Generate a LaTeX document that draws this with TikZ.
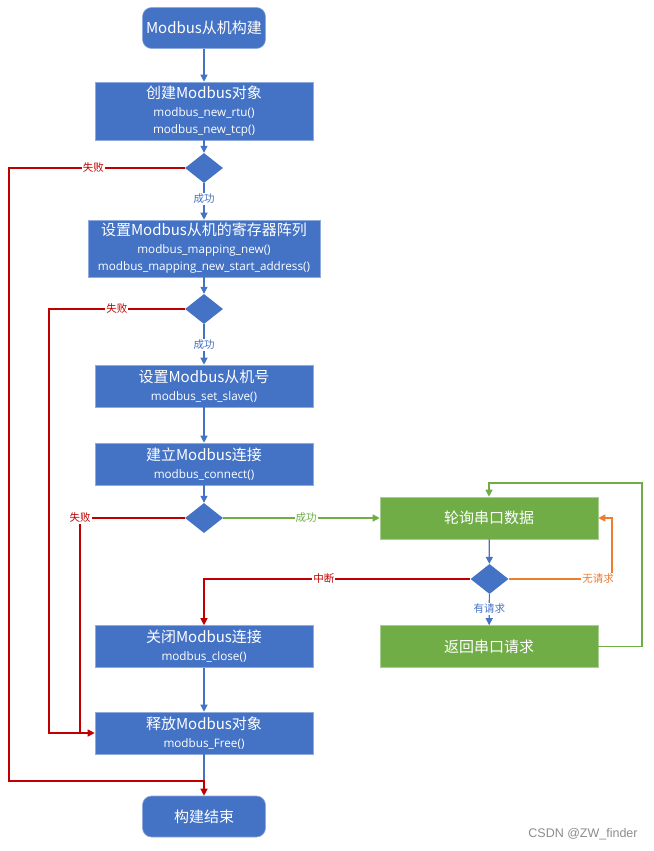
\documentclass[tikz,border=0pt]{standalone}
\usepackage{fontspec}
\setmainfont{Noto Sans CJK SC}
\newfontfamily\subf{Open Sans}
\newfontfamily\wmf{Liberation Sans}
\usetikzlibrary{shapes.geometric,arrows.meta}
\definecolor{bbox}{HTML}{4472C4}
\definecolor{gbox}{HTML}{70AD47}
\definecolor{rline}{HTML}{C00000}
\definecolor{oline}{HTML}{ED7D31}
\tikzset{
  x=1pt,y=-1pt,
  blk/.style={fill=bbox,draw=bbox!60!white,line width=0.6pt,text=white,align=center,inner sep=0pt,minimum width=218pt,font=\subf\fontsize{11.7}{17}\selectfont},
  grn/.style={fill=gbox,draw=gbox!60!white,line width=0.6pt,text=white,align=center,inner sep=0pt,minimum width=218pt,minimum height=42pt,font=\fontsize{15}{18}\selectfont},
  term/.style={fill=bbox,draw=bbox!60!white,line width=0.6pt,text=white,rounded corners=9pt,minimum width=123pt,minimum height=41pt,inner sep=0pt,font=\fontsize{15}{18}\selectfont},
  dia/.style={diamond,fill=bbox,draw=none,minimum width=38pt,minimum height=30pt,inner sep=0pt},
  tip/.style={-{Triangle[length=7pt,width=7pt]}},
  bl/.style={draw=bbox,line width=1.2pt},
  rl/.style={draw=rline,line width=1.2pt},
  gl/.style={draw=gbox,line width=1.2pt},
  ol/.style={draw=oline,line width=1.2pt},
  lbl/.style={fill=white,inner sep=1pt,font=\fontsize{10.5}{12}\selectfont},
}
\newcommand{\ttl}[1]{{\rmfamily\fontsize{15}{17}\selectfont #1}}
\begin{document}
\begin{tikzpicture}
\useasboundingbox (0,0) rectangle (653,851);
% nodes
\node[term] (start) at (204,28) {Modbus从机构建};
\node[blk,minimum height=58pt] (b1) at (204,111) {\ttl{创建Modbus对象}\\[1pt]modbus\_new\_rtu()\\modbus\_new\_tcp()};
\node[dia] (d1) at (204,168) {};
\node[blk,minimum width=232pt,minimum height=57pt] (b2) at (204,248.5) {\ttl{设置Modbus从机的寄存器阵列}\\[1pt]modbus\_mapping\_new()\\modbus\_mapping\_new\_start\_address()};
\node[dia] (d2) at (204,309) {};
\node[blk,minimum height=42pt] (b3) at (204,386) {\ttl{设置Modbus从机号}\\[1pt]modbus\_set\_slave()};
\node[blk,minimum height=42pt] (b4) at (204,464) {\ttl{建立Modbus连接}\\[1pt]modbus\_connect()};
\node[dia] (d3) at (204,518) {};
\node[grn] (g1) at (489,518) {轮询串口数据};
\node[dia] (d4) at (489.5,579) {};
\node[grn] (g2) at (489,646.5) {返回串口请求};
\node[blk,minimum height=42pt] (b5) at (204,646.5) {\ttl{关闭Modbus连接}\\[1pt]modbus\_close()};
\node[blk,minimum height=42pt] (b6) at (204,733) {\ttl{释放Modbus对象}\\[1pt]modbus\_Free()};
\node[term] (end) at (204,816.5) {构建结束};
\node[text=black!45,font=\wmf\fontsize{12.5}{14}\selectfont,inner sep=0pt] (wm) at (583,834) {CSDN @ZW\_finder};
% coordinates
\coordinate (c1) at (9,168);
\coordinate (j1) at (204,781);
\coordinate (c2) at (49,309);
\coordinate (j2) at (49,733);
\coordinate (c3) at (80,518);
\coordinate (j3) at (80,733);
\coordinate (o1) at (612,579);
\coordinate (o2) at (612,518);
\coordinate (q1) at (642,646.5);
\coordinate (q2) at (642,483);
\coordinate (q3) at (489,483);
\coordinate (r1) at (204,579);
% blue flow
\draw[bl,tip] (start) -- (b1);
\draw[bl,tip] (b1) -- (d1);
\draw[bl,tip] (d1) -- node[lbl,text=bbox,pos=0.43]{成功} (b2);
\draw[bl,tip] (b2) -- (d2);
\draw[bl,tip] (d2) -- node[lbl,text=bbox,pos=0.51]{成功} (b3);
\draw[bl,tip] (b3) -- (b4);
\draw[bl,tip] (b4) -- (d3);
\draw[bl,tip] (g1) -- (d4);
\draw[bl,tip] (d4) -- node[lbl,text=bbox,pos=0.47]{有请求} (g2);
\draw[bl,tip] (b5) -- (b6);
\draw[bl] (b6.south) -- (j1);
% red fail lines
\draw[rl,tip] (d1.west) -- node[lbl,text=rline,pos=0.52]{失败} (c1) -- (c1 |- j1) -- (j1) -- (end.north);
\draw[rl,tip] (d2.west) -- node[lbl,text=rline,pos=0.5]{失败} (c2) -- (j2) -- (b6.west);
\draw[rl] (d3.west) -- (c3) -- (j3);
\node[lbl,text=rline] (f3) at (c3) {失败};
\draw[rl,tip] (d4.west) -- node[lbl,text=rline,pos=0.55]{中断} (r1) -- (b5.north);
% green
\draw[gl,tip] (d3.east) -- node[lbl,text=gbox,pos=0.53]{成功} (g1.west);
\draw[gl,tip] (g2.east) -- (q1) -- (q2) -- (q3) -- (g1.north);
% orange
\draw[ol,tip] (d4.east) -- (o1) -- (o2) -- (g1.east);
\node[lbl,text=oline] (n1) at (598,579) {无请求};
\end{tikzpicture}
\end{document}
